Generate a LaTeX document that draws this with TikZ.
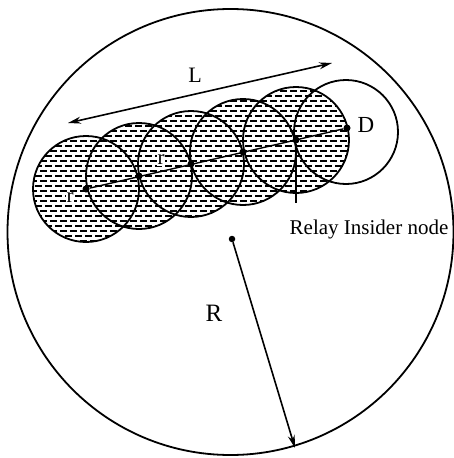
\documentclass[tikz,border=0pt]{standalone}
\usepackage{fontspec}
\setmainfont{Liberation Serif}
\usetikzlibrary{arrows.meta}
\begin{document}
\begin{tikzpicture}[x=1pt,y=-1pt,
  outline/.style={line width=1.8pt},
  hatch/.style={line width=2.1pt,dash pattern=on 7pt off 3pt},
  dot/.style={circle,fill=black,inner sep=0pt,minimum size=7pt},
  lbl/.style={inner sep=0pt,font=\fontsize{21}{21}\selectfont},
  link/.style={line width=1.4pt},
  arr/.style={line width=1.6pt,-{Stealth[length=13pt,width=7pt]}},
  darr/.style={line width=1.6pt,{Stealth[length=13pt,width=7pt]}-{Stealth[length=13pt,width=7pt]}}]
\useasboundingbox (0,0) rectangle (454,458);
\coordinate (O) at (230.5,232);
\coordinate (c1) at (86,189);
\coordinate (c2) at (139,176);
\coordinate (c3) at (191,164);
\coordinate (c4) at (243,152);
\coordinate (c5) at (296,140);
\coordinate (cD) at (347,128);
\coordinate (Dc) at (346,132);
% big circle
\draw[outline] (O) circle[radius=223pt];
% hatching
\begin{scope}
\clip (c1) circle[radius=53pt] (c2) circle[radius=53pt] (c3) circle[radius=53pt]
      (c4) circle[radius=53pt] (c5) circle[radius=53pt];
\foreach \y [count=\i] in {76,81,...,246} {
  \pgfmathsetmacro\ph{mod(\i,2)*5}
  \draw[hatch,dash phase=\ph pt] (20,\y) -- (360,\y);
}
\end{scope}
% circle outlines
\foreach \c in {c1,c2,c3,c4,c5} \draw[outline] (\c) circle[radius=53pt];
\draw[outline] (Dc) circle[radius=52pt];
% nodes
\node[dot] (n1) at (c1) {};
\node[dot] (n2) at (c2) {};
\node[dot] (n3) at (c3) {};
\node[dot] (n4) at (c4) {};
\node[dot] (n5) at (c5) {};
\node[dot] (nD) at (cD) {};
\node[dot,minimum size=6.5pt] (nO) at (232,239) {};
\draw[link] (n1) -- (nD);
% relay pointer
\coordinate (relayEnd) at (296,203);
\draw[link] (n5) -- (relayEnd);
% L arrow
\coordinate (La) at (68,123);
\coordinate (Lb) at (332,63);
\draw[darr] (La) -- (Lb);
% R arrow
\coordinate (Rend) at (295,448);
\draw[arr] (nO) -- (Rend);
% labels
\node[lbl,font=\fontsize{22}{22}\selectfont] (labL) at (195,75) {L};
\node[lbl,font=\fontsize{23}{23}\selectfont] (labD) at (366,125) {D};
\node[lbl,font=\fontsize{25}{25}\selectfont] (labR) at (214,313) {R};
\node[lbl,anchor=base] (labRelay) at (369,234) {Relay Insider node};
\node[lbl,fill=white,inner sep=0.6pt] (labr1) at (70,198) {r};
\node[lbl,fill=white,inner sep=0.6pt] (labr2) at (161,160) {r};
\end{tikzpicture}
\end{document}
